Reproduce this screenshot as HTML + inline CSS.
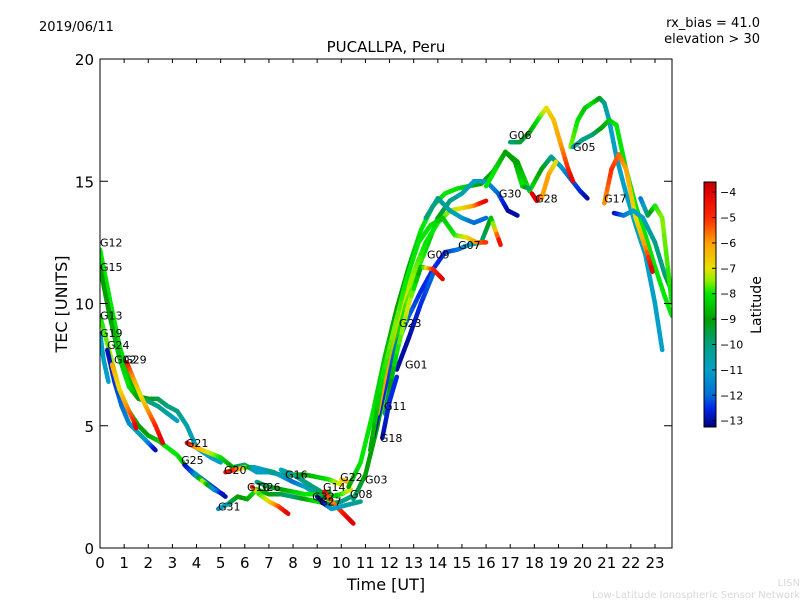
<!DOCTYPE html>
<html><head><meta charset="utf-8"><style>
body{margin:0;background:#fff;}
svg text{font-family:"DejaVu Sans","Liberation Sans",sans-serif;}
</style></head><body>
<svg id="chart" width="800" height="600" viewBox="0 0 800 600">
<defs>
<linearGradient id="jet" x1="0" y1="1" x2="0" y2="0"></linearGradient>
<clipPath id="plotclip"><rect x="100" y="59" width="572" height="489"/></clipPath>
</defs>
<text x="39" y="31" font-size="13">2019/06/11</text>
<text x="760" y="27" font-size="13" text-anchor="end">rx_bias = 41.0</text>
<text x="760" y="43" font-size="13" text-anchor="end">elevation &gt; 30</text>
<text x="386" y="52" font-size="15" text-anchor="middle">PUCALLPA, Peru</text>
<text x="386" y="590" font-size="16" text-anchor="middle">Time [UT]</text>
<text x="67" y="304" font-size="16" text-anchor="middle" transform="rotate(-90 67 304)">TEC [UNITS]</text>
<g id="tracks" clip-path="url(#plotclip)"></g>
<g id="labels"></g>
<rect x="100" y="59" width="572" height="489" fill="none" stroke="#000" stroke-width="1"/>
<g id="axes"></g>
<rect x="704" y="182" width="12" height="245" fill="url(#jet)" stroke="#000" stroke-width="1"/>
<g id="cbticks"></g>
<text x="761" y="305" font-size="14" text-anchor="middle" transform="rotate(-90 761 305)">Latitude</text>
<text x="800" y="586" font-size="10" fill="#d8d8d8" text-anchor="end">LISN</text>
<text x="800" y="598" font-size="10" fill="#d8d8d8" text-anchor="end">Low-Latitude Ionospheric Sensor Network</text>
</svg>
<script>
const xTicks=[0,1,2,3,4,5,6,7,8,9,10,11,12,13,14,15,16,17,18,19,20,21,22,23];
const yTicks=[0,5,10,15,20];
const cbTicks=[-4,-5,-6,-7,-8,-9,-10,-11,-12,-13];
const trackTimes=[
[0,0.4,0.8,1.2,1.6,2.0,2.4,2.8,3.2,3.6,4.0,4.6,5.0],
[0,0.4,0.8,1.2,1.6,2.0,2.4,2.8,3.2],
[0,0.4,0.8,1.2,1.6,2.0,2.4,2.8,3.2,3.6,4.0,4.4,4.8,5.2],
[0,0.15,0.35],
[0.3,0.6,0.9,1.2,1.5,1.8,2.1,2.3],
[0.5,0.8,1.1,1.4,1.5],
[1.1,1.4,1.7,2.0,2.3,2.6],
[3.6,4.0,4.5,5.0,5.5,6.0,6.5,7.0,7.5,8.0,8.5,9.0,9.5,10.0],
[3.5,3.9,4.3,4.7,5.1],
[4.9,5.3,5.7,6.1,6.5,7.0,7.5,8.0,8.5,9.0,9.5,10.0,10.4],
[5.2,5.6,6.0,6.4,6.8,7.2,7.6,8.0,8.5,9.0,9.5],
[6.3,6.6,7.0,7.4,7.8],
[6.5,7.0,7.5,8.0,8.5,9.0,9.5],
[7.5,8.0,8.5,9.0,9.5,10.0,10.4],
[9.3,9.6,10.0,10.3,10.5],
[9.0,9.3,9.6,10.0,10.4,10.8],
[10.0,10.3],
[10.3,10.8,11.3,11.8,12.3,12.8,13.3,13.8,14.3,14.8,15.3,15.8,16.3,16.8,17.3,17.8,18.3,18.7],
[18.7,19.1,19.5,19.9,20.2],
[10.5,11,11.5,12,12.5,13,13.5,14,14.5,15,15.5,16,16.5,16.9,17.3],
[11.3,11.8,12.3,12.8,13.3,13.8,14.3,14.8,15.3,15.8,16.2,16.6],
[12.3,12.8,13.3,13.8],
[11.8,12.3,12.8,13.3,13.8,14.2],
[11.5,12,12.5,13,13.5,14,14.5,15,15.5,16],
[11.2,11.7,12.2,12.7,13.2,13.7,14.2,14.7,15.2,15.6,16],
[13.5,14,14.5,15,15.5,16],
[17.0,17.4,17.8,18.2,18.5,18.8,19.1,19.4,19.6],
[16.0,16.4,16.8,17.2,17.5,17.8],
[17.9,18.1,18.3],
[18.3,18.6,18.9],
[19.5,19.8,20.1,20.4,20.7,20.9,21.1,21.4,21.8,22.2,22.6,23.0,23.3],
[19.6,20,20.4,20.8,21.1,21.4,21.8,22.2,22.6,23,23.4,23.7],
[20.9,21.2,21.5,21.8,22.2,22.6,22.9],
[21.3,21.7,22.1,22.5,23,23.4,23.7],
[22.4,22.7,23.0,23.3,23.7],
[11.7,12,12.3]
];
const trackTec=[
[12.2,10.2,8.3,6.9,6.2,6.1,6.1,5.8,5.6,5.0,4.1,3.7,3.5],
[11.5,9.5,7.8,6.6,6.1,6.0,5.8,5.5,5.2],
[9.5,8.0,6.5,5.6,5.0,4.6,4.4,4.1,3.8,3.3,3.0,2.7,2.4,2.1],
[8.8,7.7,6.8],
[8.1,6.8,5.8,5.1,4.8,4.5,4.2,4.0],
[7.5,6.5,5.8,5.2,4.9],
[7.6,6.9,6.2,5.6,5.0,4.3],
[4.3,4.1,3.9,3.7,3.3,3.4,3.1,3.1,3.0,3.0,3.0,2.9,2.8,2.6],
[3.4,3.0,2.7,2.4,2.2],
[1.6,1.8,2.1,2.0,2.4,2.2,2.2,2.1,2.0,1.9,1.8,1.9,2.1],
[3.1,3.2,3.3,3.3,3.2,3.1,2.9,2.7,2.5,2.2,2.0],
[2.5,2.2,1.9,1.7,1.4],
[2.7,2.5,2.4,2.3,2.2,2.2,2.3],
[3.2,3.0,2.7,2.4,2.1,2.2,2.4],
[2.3,1.9,1.5,1.2,1.0],
[2.1,1.8,1.6,1.7,1.8,1.9],
[2.8,2.7],
[2.5,3.5,5.5,7.8,9.8,11.5,13,14,14.5,14.7,14.8,14.9,15.4,16.2,15.8,14.6,15.5,16.0],
[16.0,15.6,15.1,14.6,14.3],
[2.0,3.0,5.0,7.5,9.5,11,12.2,13.5,14.2,14.5,15,15,14.5,13.8,13.6],
[4.5,6.5,8.3,9.5,10.5,11.4,12.1,12.2,12.4,12.5,13.5,12.4],
[7.3,8.6,10,11.2],
[5.5,8.0,10.0,11.5,11.4,11.0],
[5.5,8,10,11.3,12.5,13.3,13.8,13.9,14,14.2],
[4.0,7,9,11,12.5,13.2,13.5,12.8,12.7,12.5,12.5],
[13.5,14.3,13.8,13.5,13.3,13.5],
[16.6,16.6,17.0,17.6,18.0,17.5,16.5,15.5,15.0],
[14.8,15.5,16.2,15.8,14.8,14.7],
[14.5,14.2,14.4],
[14.3,15.3,15.8],
[16.4,17.5,18.0,18.2,18.4,18.2,17.5,16,14.5,13.2,12,10,8.1],
[16.4,16.7,16.9,17.2,17.5,17.3,15.5,14,12.8,11.5,10.3,9.5],
[14.1,15.5,16.1,15.5,13.5,12.3,11.3],
[13.7,13.6,13.8,13.5,12.5,11.2,10.5],
[14.3,13.6,14.0,13.5,10.0],
[4.5,6,7]
];
const trackLat=[
[-8,-8,-8,-8.5,-9,-9,-9.5,-10,-10,-10.5,-11,-11,-11],
[-9,-9,-8.5,-8,-9,-10,-10,-10.5,-11],
[-8,-7.5,-7,-8,-9,-9,-8.5,-8,-8,-8.5,-11,-12,-12.5,-13],
[-11,-11,-11],
[-13,-12.5,-12,-11.5,-11,-10.5,-12,-13],
[-6,-7,-6,-5,-4],
[-4.5,-6,-7,-6,-5,-4],
[-4,-6,-7,-8,-9,-10,-11,-11,-10,-9,-9,-8.5,-8,-7],
[-13,-12,-7,-11,-13],
[-11.5,-10.5,-9,-9,-8,-9,-9.5,-10,-9,-8,-9,-10,-10],
[-4,-5,-7,-11,-11,-10,-11,-12,-11,-10,-9],
[-4,-8,-7,-5.5,-4],
[-10,-9.5,-9,-8.5,-8,-8,-9],
[-11,-10,-10,-10,-9,-8,-7],
[-4,-6,-5,-4,-4],
[-13,-13,-11,-11,-10.5,-10],
[-7,-6],
[-9,-8,-8,-8.5,-9,-9,-8,-8,-8,-8,-8.5,-9,-9,-8,-9,-8,-9,-10],
[-10,-11,-12,-12.5,-13],
[-10,-9,-9,-8.5,-8,-7.5,-8,-9,-10,-10.5,-11,-11,-12,-13,-13],
[-13,-12.5,-12,-12,-12.5,-12.5,-12.5,-12,-11,-10,-9,-4],
[-13,-13,-12.5,-12],
[-10,-8,-7,-9,-5,-4],
[-6,-6,-7,-7.5,-8,-8,-7.5,-7,-6,-4],
[-9,-8,-7.5,-8,-8,-8,-8.5,-8,-7,-6,-5],
[-10,-10,-10.5,-11,-12,-12],
[-10,-9.5,-9,-8,-7,-6.5,-6,-5,-4],
[-8,-8,-9,-9,-8,-10],
[-4,-4,-4],
[-6,-6,-7],
[-7.5,-8,-8.5,-8,-9,-10,-11,-11,-11,-11,-11,-11,-11],
[-11,-10,-10,-9,-8.5,-8,-8,-8,-8,-8,-8,-8],
[-6,-5,-5.5,-6,-7,-6,-4],
[-13,-12,-11,-11,-10,-10,-9],
[-12,-10,-8,-7.5,-8],
[-13,-12.5,-12.5]
];
const labelNames=["G12","G15","G13","G19","G24","G02","G29","G21","G25","G20","G10","G26","G31","G16","G22","G14","G32","G27","G08","G03","G18","G11","G01","G23","G09","G07","G30","G06","G28","G05","G17"];
const labelTimes=[0,0,0,0,0.29,0.58,1.0,3.56,3.36,5.14,6.09,6.55,4.89,7.67,9.95,9.24,8.79,9.08,10.36,10.98,11.6,11.77,12.64,12.39,13.55,14.84,16.53,16.95,18.03,19.6,20.89];
const labelTec=[12.5,11.5,9.5,8.8,8.3,7.7,7.7,4.3,3.6,3.2,2.5,2.5,1.7,3.0,2.9,2.5,2.1,1.9,2.2,2.8,4.5,5.8,7.5,9.2,12.0,12.4,14.5,16.9,14.3,16.4,14.3];
const latMin=-13.25, latMax=-3.6;
const cmapLat=[-13.25,-12.5,-12,-11,-10,-9,-8,-7.5,-7,-6,-5,-4,-3.6];
const cmapCol=[[0,0,128],[0,40,230],[0,110,215],[0,160,200],[0,160,130],[0,160,0],[0,230,0],[140,240,0],[230,225,0],[255,160,0],[255,40,0],[225,0,0],[190,0,0]];
function xs(t){return 100+t*24.13;}
function ys(v){return 548-v*24.45;}
function cbY(l){return 427-(l-latMin)/(latMax-latMin)*245;}
function jet(l){
  l=Math.max(latMin,Math.min(latMax,l));
  for(let i=0;i<cmapLat.length-1;i++){
    if(l<=cmapLat[i+1]){
      const f=(l-cmapLat[i])/(cmapLat[i+1]-cmapLat[i]);
      const a=cmapCol[i],b=cmapCol[i+1];
      return `rgb(${Math.round(a[0]+(b[0]-a[0])*f)},${Math.round(a[1]+(b[1]-a[1])*f)},${Math.round(a[2]+(b[2]-a[2])*f)})`;
    }
  }
  const c=cmapCol[cmapCol.length-1];return `rgb(${c[0]},${c[1]},${c[2]})`;
}
const NS='http://www.w3.org/2000/svg';
const grad=document.getElementById('jet');
for(let i=0;i<cmapLat.length;i++){
  const s=document.createElementNS(NS,'stop');
  s.setAttribute('offset',(cmapLat[i]-latMin)/(latMax-latMin));
  s.setAttribute('stop-color',jet(cmapLat[i]));
  grad.appendChild(s);
}
const tg=document.getElementById('tracks');
for(let k=0;k<trackTimes.length;k++){
  const T=trackTimes[k],V=trackTec[k],L=trackLat[k];
  const g=document.createElementNS(NS,'g');
  
  
  for(let i=0;i<T.length-1;i++){
    const n=5;
    for(let j=0;j<n;j++){
      const a=j/n,b=(j+1)/n;
      const ln=document.createElementNS(NS,'line');
      ln.setAttribute('x1',xs(T[i]+(T[i+1]-T[i])*a));
      ln.setAttribute('y1',ys(V[i]+(V[i+1]-V[i])*a));
      ln.setAttribute('x2',xs(T[i]+(T[i+1]-T[i])*b));
      ln.setAttribute('y2',ys(V[i]+(V[i+1]-V[i])*b));
      ln.setAttribute('stroke',jet(L[i]+(L[i+1]-L[i])*(a+b)/2));
      ln.setAttribute('stroke-width','4.5');
      ln.setAttribute('stroke-linecap','round');
      
      
      g.appendChild(ln);
    }
  }
  tg.appendChild(g);
}
const lg=document.getElementById('labels');
for(let i=0;i<labelNames.length;i++){
  const t=document.createElementNS(NS,'text');
  t.setAttribute('x',xs(labelTimes[i]));
  t.setAttribute('y',ys(labelTec[i])+4);
  t.setAttribute('font-size','11');
  t.textContent=labelNames[i];
  
  
  lg.appendChild(t);
}
const ax=document.getElementById('axes');
function mk(tag,attrs,txt){const e=document.createElementNS(NS,tag);for(const k in attrs)e.setAttribute(k,attrs[k]);if(txt!==undefined)e.textContent=txt;ax.appendChild(e);return e;}
xTicks.forEach(v=>{
  const x=xs(v);
  const a=mk('line',{x1:x,y1:548,x2:x,y2:544,stroke:'#000'});
  
  
  const b=mk('line',{x1:x,y1:59,x2:x,y2:63,stroke:'#000'});
  
  
  const t=mk('text',{x:x,y:568,'font-size':15,'text-anchor':'middle'},String(v));
  
  
});
yTicks.forEach(v=>{
  const y=ys(v);
  const a=mk('line',{x1:100,y1:y,x2:108,y2:y,stroke:'#000'});
  
  
  const b=mk('line',{x1:672,y1:y,x2:664,y2:y,stroke:'#000'});
  
  
  const t=mk('text',{x:94,y:y+6,'font-size':15,'text-anchor':'end'},String(v));
  
  
});
const cb=document.getElementById('cbticks');
cbTicks.forEach(v=>{
  const y=cbY(v);
  const l=document.createElementNS(NS,'line');
  l.setAttribute('x1',712);l.setAttribute('x2',716);l.setAttribute('y1',y);l.setAttribute('y2',y);l.setAttribute('stroke','#000');
  
  
  cb.appendChild(l);
  const t=document.createElementNS(NS,'text');
  t.setAttribute('x',720);t.setAttribute('y',y+4);t.setAttribute('font-size','11');
  t.textContent='\u2212'+String(Math.abs(v));
  
  
  cb.appendChild(t);
});
</script>
</body></html>
